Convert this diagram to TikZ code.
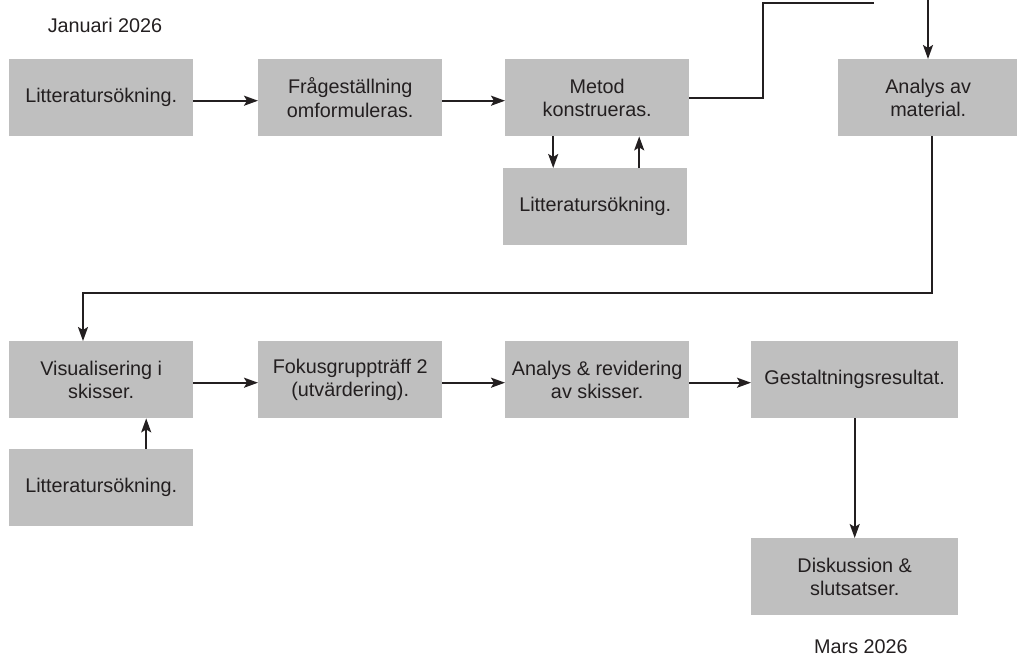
\documentclass[tikz,border=0pt]{standalone}
\usepackage{fontspec}
\setmainfont{Liberation Sans}
\usetikzlibrary{arrows.meta}
\definecolor{boxgray}{HTML}{BFBFBF}
\definecolor{ink}{HTML}{231F20}
\tikzset{
  box/.style={fill=boxgray, draw=none, anchor=north west, inner sep=0pt,
    minimum width=184pt, minimum height=77pt, align=center, text=ink,
    font=\fontsize{19.8}{23.5}\selectfont},
  wide/.style={box, minimum width=207pt},
  lbl/.style={text=ink, inner sep=0pt, font=\fontsize{19.8}{23.5}\selectfont},
  conn/.style={draw=ink, line width=2pt},
  arr/.style={conn, -{Stealth[length=14pt,width=10pt,inset=3pt]}}
}
\begin{document}
\begin{tikzpicture}[x=1pt,y=-1pt]
\useasboundingbox (0,0) rectangle (1017,657);
% row 1
\node[box] (b1) at (9,59) {Litteratursökning.};
\node[box] (b2) at (258,59) {Frågeställning\\omformuleras.};
\node[box] (b3) at (505,59) {Metod\\konstrueras.};
\node[box] (l1) at (503,168) {Litteratursökning.};
\node[box, minimum width=180pt] (b4) at (838,59) {Analys av\\material.};
% row 2
\node[box] (v1) at (9,341) {Visualisering i\\skisser.};
\node[box] (l2) at (9,449) {Litteratursökning.};
\node[box] (f1) at (258,341) {Fokusgruppträff 2\\(utvärdering).};
\node[box] (a1) at (505,341) {Analys \& revidering\\av skisser.};
\node[wide] (g1) at (751,341) {Gestaltningsresultat.};
\node[wide] (d1) at (751,538) {Diskussion \&\\slutsatser.};
% labels
\node[lbl] (jan) at (105,25) {Januari 2026};
\node[lbl] (mar) at (861,647) {Mars 2026};
% coordinates for free ends
\coordinate (k1) at (763,3);
\coordinate (t1) at (874,3);
\coordinate (t2) at (928,0);
\coordinate (k2) at (83,293);
% connectors row 1
\draw[arr] ([yshift=-3pt]b1.east) -- ([yshift=-3pt]b2.west);
\draw[arr] ([yshift=-3pt]b2.east) -- ([yshift=-3pt]b3.west);
\draw[conn] (b3.east) -| (k1) -- (t1);
\draw[arr] (t2) -- (t2 |- b4.north);
\draw[arr] ([xshift=-44pt]b3.south) -- ([xshift=-44pt]b3.south |- l1.north);
\draw[arr] ([xshift=42pt]b3.south |- l1.north) -- ([xshift=42pt]b3.south);
% long connector
\draw[arr] ([xshift=4pt]b4.south) |- (k2) -- (k2 |- v1.north);
% row 2
\draw[arr] ([xshift=45pt]l2.north) -- ([xshift=45pt]l2.north |- v1.south);
\draw[arr] ([yshift=-3pt]v1.east) -- ([yshift=-3pt]f1.west);
\draw[arr] ([yshift=-3pt]f1.east) -- ([yshift=-3pt]a1.west);
\draw[arr] ([yshift=-3pt]a1.east) -- ([yshift=-3pt]g1.west);
\draw[arr] (g1.south) -- (d1.north);
\end{tikzpicture}
\end{document}
